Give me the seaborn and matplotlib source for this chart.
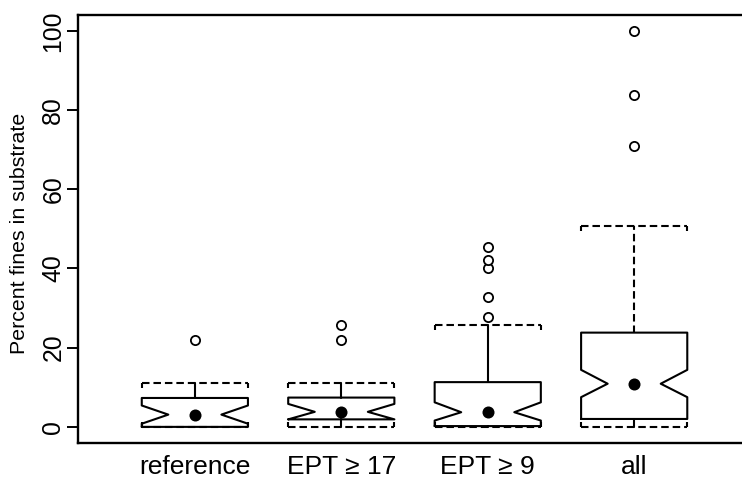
import numpy as np
import pandas as pd
import matplotlib
matplotlib.use("Agg")
import matplotlib.pyplot as plt
import seaborn as sns

# ---- data ----
groups = ["reference", "EPT \u2265 17", "EPT \u2265 9", "all"]
whisker_low = [0.0, 0.0, 0.0, 0.0]
q1 = [0.0, 1.9, 0.2, 2.0]
median = [3.1, 3.8, 3.7, 10.9]
q3 = [7.3, 7.4, 11.3, 23.8]
whisker_high = [11.0, 11.0, 25.8, 50.7]
notch_low = [0.8, 1.9, 1.6, 7.5]
notch_high = [5.4, 5.8, 6.2, 14.4]
out_reference = [21.9]
out_ept17 = [21.9, 25.6]
out_ept9 = [27.7, 32.9, 40.1, 42.2, 45.5]
out_all = [70.8, 83.8, 100.0]
yticks = [0, 20, 40, 60, 80, 100]

# ---- style ----
sns.set_theme(style="ticks")
plt.rcParams["font.family"] = ["Liberation Sans", "DejaVu Sans"]

LW = 1.5
DASH = (0, (3.6, 1.9))
BOXW = 0.725
TICKLEN = 1.3  # length of the small end marks on the caps (data units)

positions = np.arange(1, len(groups) + 1)

fig = plt.figure(figsize=(7.42, 4.78), dpi=100)
ax = fig.add_axes([0.1047, 0.0738, 0.9079, 0.8948])

stats = []
for i, g in enumerate(groups):
    stats.append(dict(label=g, whislo=whisker_low[i], q1=q1[i], med=median[i],
                      q3=q3[i], whishi=whisker_high[i], cilo=notch_low[i],
                      cihi=notch_high[i], fliers=[]))

bp = ax.bxp(stats, positions=positions, widths=BOXW, capwidths=BOXW,
            shownotches=True, showfliers=False, manage_ticks=False,
            boxprops=dict(color="black", lw=LW),
            whiskerprops=dict(color="black", lw=LW, linestyle="-"),
            capprops=dict(color="black", lw=LW, linestyle=DASH),
            medianprops=dict(visible=False))
# upper whisker of the "all" group is dashed in the reference
bp["whiskers"][2 * 3 + 1].set_linestyle(DASH)

# small end marks on the dashed caps
half = BOXW / 2
for i, p in enumerate(positions):
    for xe in (p - half, p + half):
        ax.vlines(xe, whisker_high[i] - TICKLEN, whisker_high[i], color="black", lw=LW)
        ax.vlines(xe, whisker_low[i], whisker_low[i] + TICKLEN, color="black", lw=LW)

# outliers
out_lists = [out_reference, out_ept17, out_ept9, out_all]
df_out = pd.DataFrame({
    "pos": np.concatenate([[p] * len(o) for p, o in zip(positions, out_lists)]),
    "value": np.concatenate(out_lists),
})
sns.scatterplot(data=df_out, x="pos", y="value", marker="o", s=44,
                color="white", edgecolor="black", linewidth=1.3, ax=ax, zorder=3)

# medians as filled dots
df_med = pd.DataFrame({"pos": positions, "median": median})
sns.scatterplot(data=df_med, x="pos", y="median", marker="o", s=75,
                color="black", edgecolor="black", linewidth=0, ax=ax, zorder=4)

# ---- axes ----
ax.set_xlim(0.2, 4.8)
ax.set_ylim(-4, 104)
ax.set_xticks(positions)
ax.set_xticklabels(groups)
ax.set_yticks(yticks)
ax.set_yticklabels([str(t) for t in yticks])
ax.tick_params(axis="x", length=0, pad=8.5, labelsize=19, colors="black")
ax.tick_params(axis="y", length=7.9, width=1.4, direction="out", pad=1,
               labelsize=17.8, colors="black")
plt.setp(ax.get_yticklabels(), rotation=90, va="center")
ax.set_xlabel("")
ax.set_ylabel("Percent fines in substrate", fontsize=15.4, color="black")
ax.yaxis.set_label_coords(-0.072, 0.49)
for s in ax.spines.values():
    s.set_linewidth(1.7)
    s.set_color("black")
ax.grid(False)

fig.savefig("out.png", dpi=100)
